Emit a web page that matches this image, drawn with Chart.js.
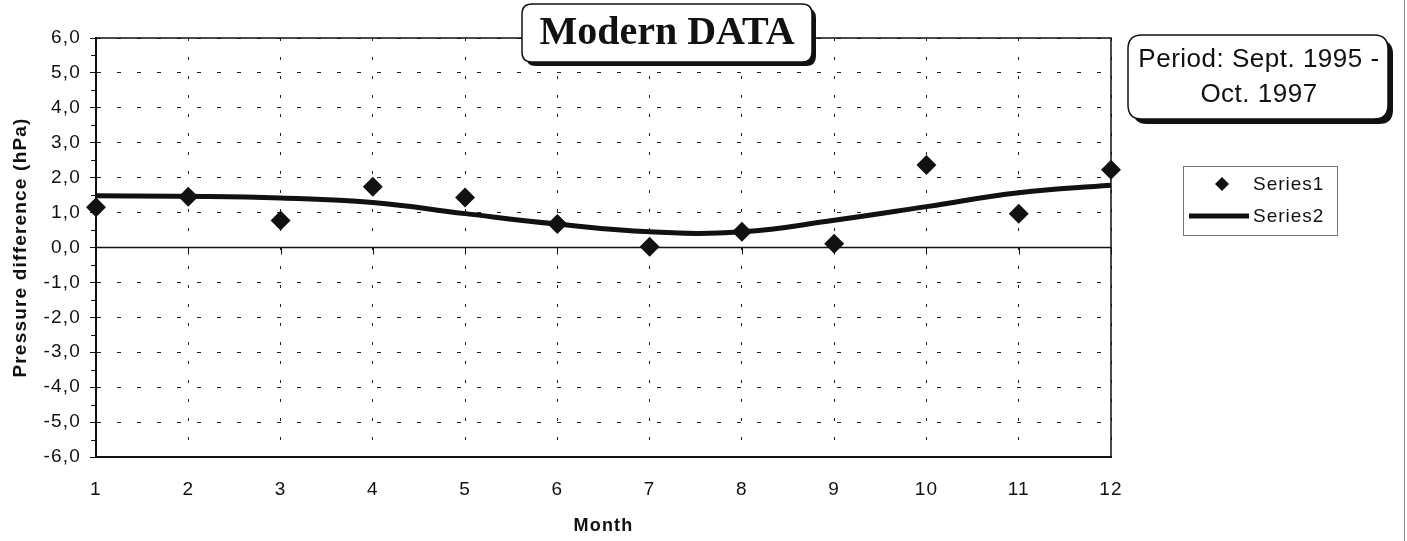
<!DOCTYPE html>
<html>
<head>
  <title>Modern DATA</title>
  <meta charset="utf-8">
  <script src="https://cdn.jsdelivr.net/npm/chart.js@4.4.0/dist/chart.umd.min.js"></script>
  <style>
    body { margin: 0; background: #fff; }
  </style>
</head>
<body>
<canvas id="myChart" width="1407" height="541"></canvas>
<script>
  var months = ['1', '2', '3', '4', '5', '6', '7', '8', '9', '10', '11', '12'];
  var series1 = [1.15, 1.45, 0.77, 1.74, 1.43, 0.67, 0.02, 0.45, 0.11, 2.36, 0.97, 2.23];
  var series2 = [1.48, 1.47, 1.42, 1.29, 0.97, 0.67, 0.45, 0.45, 0.78, 1.17, 1.57, 1.78];
  var yTicks = [-6, -5, -4, -3, -2, -1, 0, 1, 2, 3, 4, 5, 6];
  var yTickLabels = ['-6,0', '-5,0', '-4,0', '-3,0', '-2,0', '-1,0', '0,0', '1,0', '2,0', '3,0', '4,0', '5,0', '6,0'];
  var titleText = 'Modern DATA';
  var periodText = ['Period: Sept. 1995 -', 'Oct. 1997'];

  var sans = "'Liberation Sans', Arial, sans-serif";
  Chart.defaults.font.family = sans;
  Chart.defaults.color = '#111';

  function roundRect(ctx, x, y, w, h, r) {
    ctx.beginPath();
    ctx.moveTo(x + r, y);
    ctx.lineTo(x + w - r, y);
    ctx.quadraticCurveTo(x + w, y, x + w, y + r);
    ctx.lineTo(x + w, y + h - r);
    ctx.quadraticCurveTo(x + w, y + h, x + w - r, y + h);
    ctx.lineTo(x + r, y + h);
    ctx.quadraticCurveTo(x, y + h, x, y + h - r);
    ctx.lineTo(x, y + r);
    ctx.quadraticCurveTo(x, y, x + r, y);
    ctx.closePath();
  }

  function shadowBox(ctx, x, y, w, h, r, off) {
    ctx.fillStyle = '#111';
    roundRect(ctx, x + off, y + off, w, h, r);
    ctx.fill();
    ctx.fillStyle = '#fff';
    roundRect(ctx, x, y, w, h, r);
    ctx.fill();
    ctx.lineWidth = 1.5;
    ctx.strokeStyle = '#111';
    ctx.stroke();
  }

  // frame, zero line and the little tick marks excel draws
  var framePlugin = {
    id: 'frame',
    beforeDraw: function(chart) {
      // the scanned text is a bit wider than Arial
      chart.ctx.letterSpacing = '1.2px';
    },
    beforeDatasetsDraw: function(chart) {
      var ctx = chart.ctx;
      var a = chart.chartArea;
      var x = chart.scales.x;
      var y = chart.scales.y;
      ctx.save();
      ctx.strokeStyle = '#111';
      ctx.lineWidth = 1.5;
      ctx.strokeRect(a.left, a.top, a.right - a.left, a.bottom - a.top);
      ctx.lineWidth = 2;
      ctx.beginPath();
      ctx.moveTo(a.left, a.top);
      ctx.lineTo(a.left, a.bottom);
      ctx.lineTo(a.right, a.bottom);
      ctx.stroke();
      var y0 = y.getPixelForValue(0);
      ctx.lineWidth = 1.5;
      ctx.beginPath();
      ctx.moveTo(a.left, y0);
      ctx.lineTo(a.right, y0);
      ctx.stroke();
      ctx.lineWidth = 1;
      ctx.beginPath();
      for (var i = 0; i < months.length; i++) {
        var px = Math.round(x.getPixelForValue(i)) + 0.5;
        ctx.moveTo(px, y0);
        ctx.lineTo(px, y0 + 7);
      }
      for (var j = 0; j < yTicks.length - 1; j++) {
        var py = Math.round(y.getPixelForValue(yTicks[j] + 0.5)) + 0.5;
        ctx.moveTo(a.left - 5, py);
        ctx.lineTo(a.left, py);
      }
      ctx.stroke();
      ctx.restore();
    },
    afterDraw: function(chart) {
      var ctx = chart.ctx;
      ctx.save();

      // title box
      ctx.letterSpacing = '0px';
      shadowBox(ctx, 522, 4, 290, 58, 10, 4);
      ctx.fillStyle = '#111';
      ctx.font = "bold 40px 'Liberation Serif', 'Times New Roman', serif";
      ctx.textAlign = 'center';
      ctx.textBaseline = 'middle';
      ctx.fillText(titleText, 667, 34);

      // period box
      shadowBox(ctx, 1128, 35, 260, 84, 14, 5);
      ctx.fillStyle = '#111';
      ctx.font = '26px ' + sans;
      ctx.letterSpacing = '0.5px';
      ctx.fillText(periodText[0], 1259, 60);
      ctx.fillText(periodText[1], 1259, 95);

      // legend
      ctx.letterSpacing = '1px';
      ctx.lineWidth = 1;
      ctx.strokeStyle = '#777';
      ctx.strokeRect(1183.5, 166.5, 154, 69);
      var ds = chart.data.datasets;
      ctx.font = '19px ' + sans;
      ctx.textAlign = 'left';
      ctx.fillStyle = '#111';
      ctx.beginPath();
      ctx.moveTo(1222, 177);
      ctx.lineTo(1229, 184);
      ctx.lineTo(1222, 191);
      ctx.lineTo(1215, 184);
      ctx.closePath();
      ctx.fill();
      ctx.fillText(ds[0].label, 1253, 185);
      ctx.strokeStyle = '#111';
      ctx.lineWidth = 5;
      ctx.beginPath();
      ctx.moveTo(1189, 216);
      ctx.lineTo(1249, 216);
      ctx.stroke();
      ctx.fillText(ds[1].label, 1253, 217);

      // scan edge
      ctx.strokeStyle = '#888';
      ctx.lineWidth = 1;
      ctx.beginPath();
      ctx.moveTo(1404.5, 0);
      ctx.lineTo(1404.5, 541);
      ctx.stroke();
      ctx.restore();
    }
  };

  var ctx = document.getElementById('myChart').getContext('2d');
  var chart = new Chart(ctx, {
    type: 'line',
    data: {
      labels: months,
      datasets: [{
        label: 'Series1',
        data: series1,
        showLine: false,
        pointStyle: 'rectRot',
        pointRadius: 10,
        pointBackgroundColor: '#111',
        pointBorderWidth: 0,
        order: 0
      }, {
        label: 'Series2',
        data: series2,
        borderColor: '#111',
        borderWidth: 5,
        pointRadius: 0,
        tension: 0.45,
        order: 1
      }]
    },
    options: {
      responsive: false,
      animation: false,
      layout: {
        padding: { left: 0, top: 38, right: 296, bottom: 0 }
      },
      scales: {
        x: {
          offset: false,
          afterFit: function(scale) { scale.height = 84; },
          grid: {
            color: '#222',
            drawTicks: false,
            offset: false
          },
          border: { display: true, color: '#111', width: 2, dash: [3, 16] },
          ticks: {
            padding: 21,
            maxRotation: 0,
            font: { size: 19 }
          },
          title: {
            display: true,
            text: 'Month',
            font: { size: 18, weight: 'bold' },
            padding: { top: 0, bottom: 4 }
          }
        },
        y: {
          min: -6,
          max: 6,
          afterFit: function(scale) { scale.width = 96; },
          ticks: {
            stepSize: 1,
            padding: 9,
            font: { size: 19 },
            callback: function(value) {
              var i = yTicks.indexOf(value);
              return i >= 0 ? yTickLabels[i] : '';
            }
          },
          grid: {
            color: '#222',
            tickColor: '#111',
            tickLength: 6
          },
          border: { display: true, color: '#111', width: 2, dash: [4, 16] },
          title: {
            display: true,
            text: 'Pressure difference (hPa)',
            font: { size: 19, weight: 'bold' },
            padding: { top: 9, bottom: 0 }
          }
        }
      },
      plugins: {
        legend: { display: false },
        title: { display: false },
        tooltip: { enabled: false }
      }
    },
    plugins: [framePlugin]
  });
</script>
</body>
</html>
